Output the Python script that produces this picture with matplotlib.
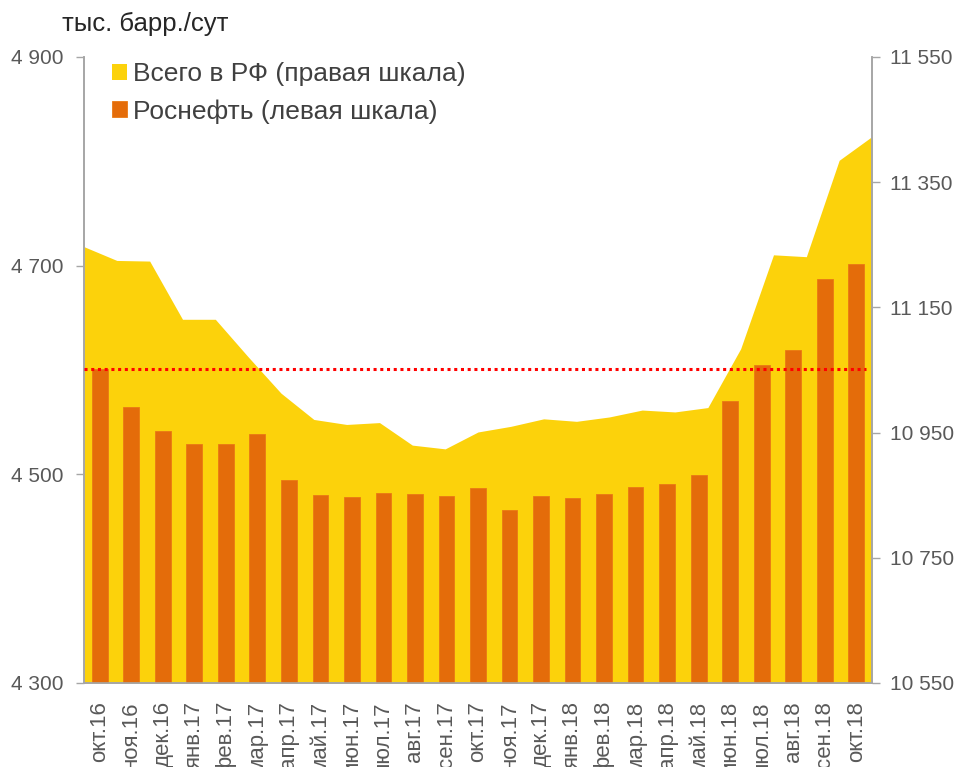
import matplotlib.pyplot as plt
import numpy as np
from matplotlib.ticker import FuncFormatter, FixedLocator

plt.rcParams['font.family'] = ['Liberation Sans', 'DejaVu Sans']

months = ['окт.16', 'ноя.16', 'дек.16', 'янв.17', 'фев.17', 'мар.17', 'апр.17',
          'май.17', 'июн.17', 'июл.17', 'авг.17', 'сен.17', 'окт.17', 'ноя.17',
          'дек.17', 'янв.18', 'фев.18', 'мар.18', 'апр.18', 'май.18', 'июн.18',
          'июл.18', 'авг.18', 'сен.18', 'окт.18']

# Роснефть, тыс. барр./сут (left scale)
rosneft = [4601, 4565, 4542, 4529, 4529, 4539, 4495, 4480, 4478, 4482, 4481,
           4479, 4487, 4466, 4479, 4477, 4481, 4488, 4491, 4499, 4570, 4605,
           4619, 4687, 4702]

# total Russia, тыс. барр./сут (right scale)
russia = [11247, 11225, 11224, 11131, 11131, 11071, 11013, 10971, 10963, 10966,
          10930, 10924, 10951, 10960, 10972, 10968, 10975, 10986, 10983, 10990,
          11084, 11234, 11231, 11385, 11423]

baseline = rosneft[0]

yellow = '#FCD20B'
orange = '#E46C0A'
grey = '#A6A6A6'
txt = '#595959'

fig = plt.figure(figsize=(9.55, 7.67), dpi=100)
ax = fig.add_axes([84 / 955, 1 - 683 / 767, 788 / 955, 626 / 767])
ax2 = ax.twinx()
ax.set_zorder(ax2.get_zorder() + 1)
ax.patch.set_visible(False)

x = np.arange(len(months))
xa = np.linspace(-0.5, len(months) - 0.5, len(russia))

area = ax2.fill_between(xa, 10550, russia, color=yellow, lw=0,
                        label='Всего в РФ (правая шкала)')
bars = ax.bar(x, rosneft, width=0.5, color=orange, edgecolor='#EA7A14',
              linewidth=0.6, label='Роснефть (левая шкала)', zorder=2)
ax.hlines(baseline, -0.5, len(months) - 0.7, colors='#FF0000',
          linestyles=(0, (1, 1.2)), linewidth=2.2, zorder=3)

ax.set_xlim(-0.5, len(months) - 0.5)
ax2.set_xlim(-0.5, len(months) - 0.5)
ax.set_ylim(4300, 4900)
ax2.set_ylim(10550, 11550)
ax.set_yticks([4300, 4500, 4700, 4900])
ax2.set_yticks(np.arange(10550, 11551, 200))

fmt = FuncFormatter(lambda v, p: f'{v:,.0f}'.replace(',', ' '))
ax.yaxis.set_major_formatter(fmt)
ax2.yaxis.set_major_formatter(fmt)

# ticks at category boundaries of the area series, labels at bar centres
ax.xaxis.set_major_locator(FixedLocator(xa))
ax.xaxis.set_major_formatter(FuncFormatter(lambda v, p: ''))
ax.xaxis.set_minor_locator(FixedLocator(x))
ax.set_xticklabels(months, minor=True, rotation=90, va='top', ha='center')
ax.tick_params(axis='x', which='major', length=6, width=1, color=grey)
ax.tick_params(axis='x', which='minor', length=0, pad=13, labelsize=16,
               labelcolor=txt)
ax2.set_xticks([])

ax.tick_params(axis='y', length=6, width=1, color=grey, pad=9,
               labelsize=15, labelcolor=txt)
ax2.tick_params(axis='y', length=6, width=1, color=grey, pad=7,
                labelsize=15, labelcolor=txt)

for a in (ax, ax2):
    a.spines['top'].set_visible(False)
    for s in ('left', 'right', 'bottom'):
        a.spines[s].set_color(grey)
        a.spines[s].set_linewidth(1.2)

fig.text(62 / 955, 1 - 31 / 767, 'тыс. барр./сут', fontsize=18.5,
         color='#262626', va='baseline', ha='left')

ax.legend([area, bars], [area.get_label(), bars.get_label()],
          loc='upper left', bbox_to_anchor=(112 / 955, 1 - 62 / 767),
          bbox_transform=fig.transFigure, frameon=False, fontsize=19,
          handlelength=0.55, handleheight=0.55, handletextpad=0.25,
          labelspacing=0.5, borderaxespad=0, borderpad=0,
          labelcolor='#404040')

fig.savefig('out.png', dpi=100)
